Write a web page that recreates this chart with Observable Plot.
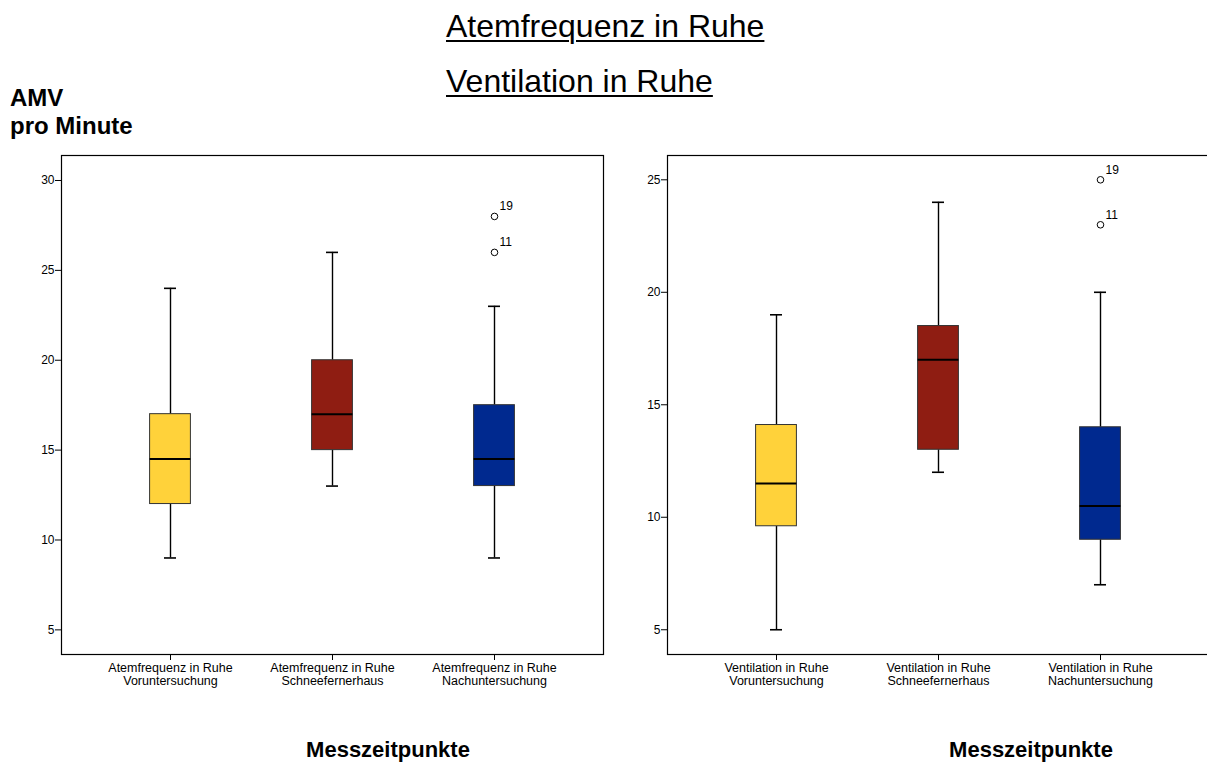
<!DOCTYPE html>
<html><head><meta charset="utf-8">
<script src="https://cdn.jsdelivr.net/npm/d3@7"></script>
<script src="https://cdn.jsdelivr.net/npm/@observablehq/plot@0.6"></script>
<style>
body{margin:0;background:#fff;}
#root{position:relative;width:1207px;height:763px;overflow:hidden;font-family:"Liberation Sans",Arial,sans-serif;color:#000;background:#fff;}
.t{position:absolute;white-space:nowrap;z-index:2;}
.title{font-size:32px;line-height:32px;left:446px;text-decoration:underline;text-decoration-thickness:2px;text-underline-offset:3px;}
.xl{font-size:22px;line-height:22px;font-weight:bold;transform:translateX(-50%);top:739px;}
.panel{position:absolute;top:130px;width:620px;height:570px;z-index:1;}
.panel svg{max-width:none;}
</style></head><body><div id="root">
<div class="t title" style="top:10px">Atemfrequenz in Ruhe</div>
<div class="t title" style="top:65px">Ventilation in Ruhe</div>
<div class="t" style="left:10px;top:84px;font-size:24px;line-height:28px;font-weight:bold">AMV<br>pro Minute</div>
<div class="t xl" style="left:388px">Messzeitpunkte</div>
<div class="t xl" style="left:1031px">Messzeitpunkte</div>
</div>
<script>
// Panel 1: Atemfrequenz
const afCategories = ["Atemfrequenz in Ruhe\nVoruntersuchung", "Atemfrequenz in Ruhe\nSchneefernerhaus", "Atemfrequenz in Ruhe\nNachuntersuchung"];
const afLow = [9, 13, 9];
const afQ1 = [12, 15, 13];
const afMedian = [14.5, 17, 14.5];
const afQ3 = [17, 20, 17.5];
const afHigh = [24, 26, 23];
const afOutlierCat = [2, 2];
const afOutlierVal = [26, 28];
const afOutlierLab = ["11", "19"];
const afTicks = [5, 10, 15, 20, 25, 30];

// Panel 2: Ventilation
const vnCategories = ["Ventilation in Ruhe\nVoruntersuchung", "Ventilation in Ruhe\nSchneefernerhaus", "Ventilation in Ruhe\nNachuntersuchung"];
const vnLow = [5, 12, 7];
const vnQ1 = [9.6, 13, 9];
const vnMedian = [11.5, 17, 10.5];
const vnQ3 = [14.1, 18.5, 14];
const vnHigh = [19, 24, 20];
const vnOutlierCat = [2, 2];
const vnOutlierVal = [23, 25];
const vnOutlierLab = ["11", "19"];
const vnTicks = [5, 10, 15, 20, 25];

const boxColors = ["#FFD23A", "#8F1D12", "#00298F"];

function panel(o) {
  const rows = o.cats.map((c, i) => ({cat: c, low: o.low[i], q1: o.q1[i], med: o.med[i], q3: o.q3[i], high: o.high[i], color: boxColors[i]}));
  const outs = o.outCat.map((ci, i) => ({cat: o.cats[ci], value: o.outVal[i], label: o.outLab[i]}));
  return Plot.plot({
    width: 620, height: 570,
    marginLeft: o.marginLeft, marginRight: o.marginRight, marginTop: 25, marginBottom: 46,
    style: {fontFamily: "'Liberation Sans', Arial, sans-serif", background: "none", overflow: "visible", maxWidth: "none", color: "#000"},
    x: {type: "band", domain: o.cats, paddingInner: 0, paddingOuter: 0.17},
    y: {domain: o.yDomain},
    color: {type: "identity"},
    marks: [
      Plot.ruleX(rows, {x: "cat", y1: "low", y2: "q1", stroke: "#000", strokeWidth: 1.4}),
      Plot.ruleX(rows, {x: "cat", y1: "q3", y2: "high", stroke: "#000", strokeWidth: 1.4}),
      Plot.tickY(rows, {x: "cat", y: "low", insetLeft: 75, insetRight: 75, stroke: "#000", strokeWidth: 1.6}),
      Plot.tickY(rows, {x: "cat", y: "high", insetLeft: 75, insetRight: 75, stroke: "#000", strokeWidth: 1.6}),
      Plot.barY(rows, {x: "cat", y1: "q1", y2: "q3", fill: "color", stroke: "#333", strokeWidth: 1, insetLeft: 60.6, insetRight: 60.6}),
      Plot.tickY(rows, {x: "cat", y: "med", insetLeft: 60.6, insetRight: 60.6, stroke: "#000", strokeWidth: 2}),
      Plot.dot(outs, {x: "cat", y: "value", r: 3.3, stroke: "#000", strokeWidth: 1, fill: "none"}),
      Plot.text(outs, {x: "cat", y: "value", text: "label", dx: 5, dy: -6, textAnchor: "start", lineAnchor: "bottom", fontSize: 12, fill: "#000"}),
      Plot.frame({stroke: "#000", strokeWidth: 1.2}),
      Plot.axisY({ticks: o.ticks, tickSize: 6, tickPadding: 1, fontSize: 12, label: null, stroke: "#000", fill: "#000"}),
      Plot.axisX({tickSize: 6, tickPadding: 3, fontSize: 12.5, lineHeight: 1.0, label: null, stroke: "#000", fill: "#000"})
    ]
  });
}

const root = document.getElementById("root");
const p1 = document.createElement("div"); p1.className = "panel"; p1.style.left = "0px";
p1.appendChild(panel({cats: afCategories, low: afLow, q1: afQ1, med: afMedian, q3: afQ3, high: afHigh,
  outCat: afOutlierCat, outVal: afOutlierVal, outLab: afOutlierLab, yDomain: [3.63, 31.39], ticks: afTicks,
  marginLeft: 61, marginRight: 17}));
const p2 = document.createElement("div"); p2.className = "panel"; p2.style.left = "600px";
p2.appendChild(panel({cats: vnCategories, low: vnLow, q1: vnQ1, med: vnMedian, q3: vnQ3, high: vnHigh,
  outCat: vnOutlierCat, outVal: vnOutlierVal, outLab: vnOutlierLab, yDomain: [3.90, 26.08], ticks: vnTicks,
  marginLeft: 67, marginRight: 11}));
root.appendChild(p1);
root.appendChild(p2);
</script></body></html>
